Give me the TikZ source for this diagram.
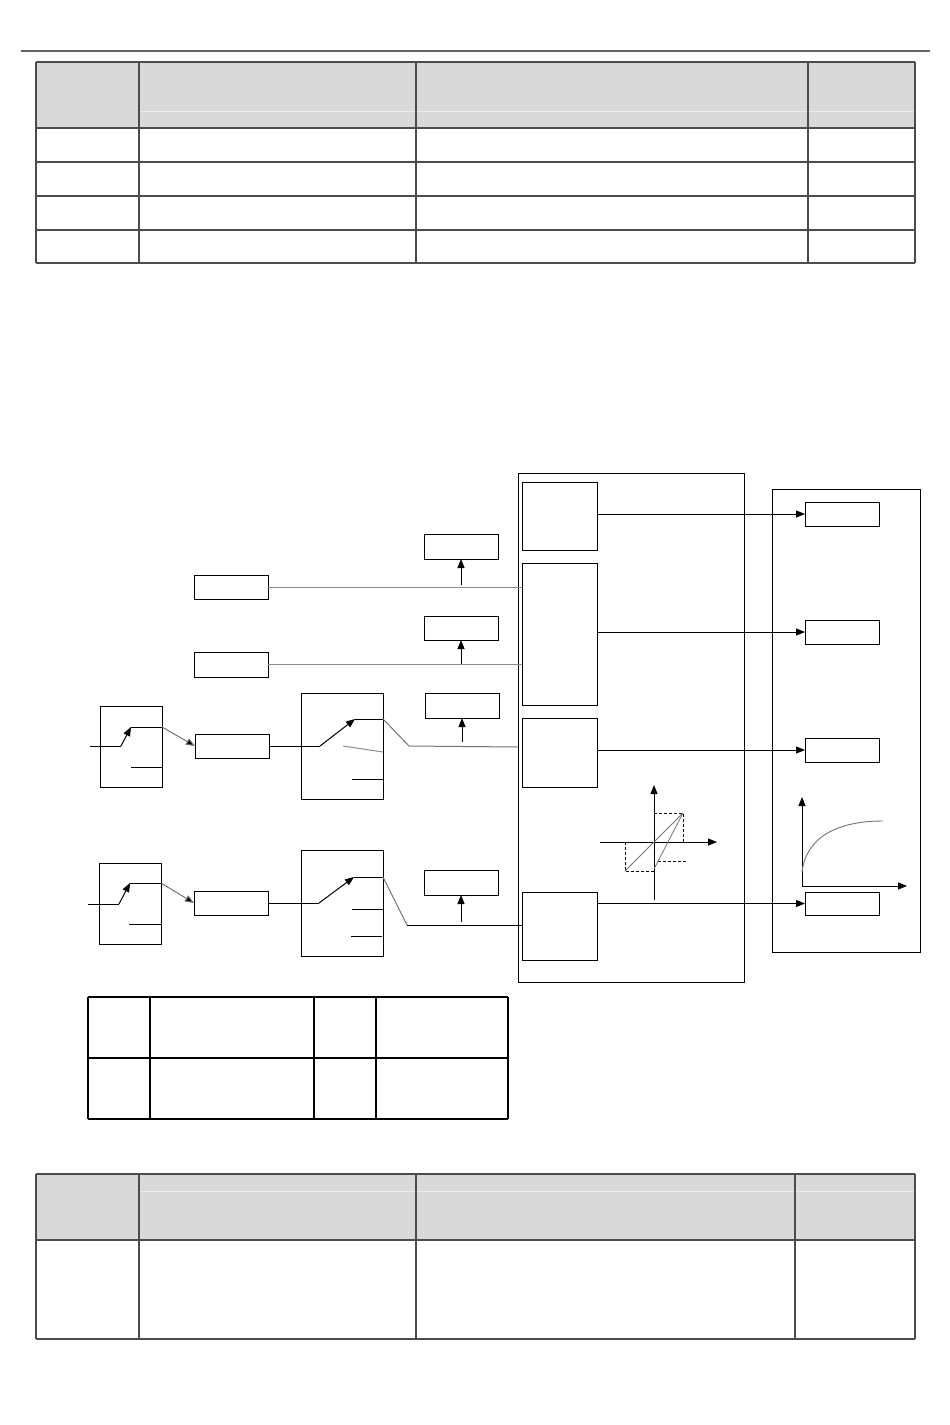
\documentclass[tikz,border=0pt]{standalone}
\usetikzlibrary{arrows.meta}
\begin{document}
\begin{tikzpicture}[x=1pt,y=-1pt,
  box/.style={draw=black,line width=1pt,inner sep=0pt,outer sep=0pt,fill=white},
  ln/.style={draw=black,line width=1pt},
  gln/.style={draw=black!45,line width=1pt},
  arr/.style={-{Triangle[length=9pt,width=7pt]}},
  tbl/.style={draw=black!70,line width=1.8pt},
  thn/.style={draw=black,line width=1.2pt},
  dsh/.style={draw=black,line width=0.9pt,dash pattern=on 3pt off 2pt},
  hl/.style={draw=white!92!black,line width=1pt}]
\useasboundingbox (0,0) rectangle (950,1425);
% header rule
\draw[draw=black!60,line width=2pt] (21,51) -- (930,51);
% ---------- top table
\fill[gray!30] (36,62) rectangle (915,128);
\draw[hl] (140,111) -- (915,111);
\foreach \y in {62,128,162,196,230,263} \draw[tbl] (36,\y) -- (915,\y);
\foreach \x in {36,139,416,808,915} \draw[tbl] (\x,62) -- (\x,263);
% ---------- diagram boxes
\node[box,minimum width=226pt,minimum height=509pt] (Mid) at (631,727.5) {};
\node[box,minimum width=148pt,minimum height=463pt] (Rbig) at (846,720.5) {};
\node[box,minimum width=75pt,minimum height=68pt] (A) at (559.5,516) {};
\node[box,minimum width=75pt,minimum height=142pt] (B) at (559.5,634) {};
\node[box,minimum width=75pt,minimum height=69pt] (C) at (559.5,752.5) {};
\node[box,minimum width=75pt,minimum height=68pt] (D) at (559.5,926) {};
\node[box,minimum width=74pt,minimum height=24pt] (R1) at (842,514) {};
\node[box,minimum width=74pt,minimum height=24pt] (R2) at (842,632) {};
\node[box,minimum width=74pt,minimum height=24pt] (R3) at (842,750) {};
\node[box,minimum width=74pt,minimum height=23pt] (R4) at (842,903.5) {};
\node[box,minimum width=74pt,minimum height=24pt] (K) at (231,587) {};
\node[box,minimum width=74pt,minimum height=25pt] (L) at (461,546.5) {};
\node[box,minimum width=74pt,minimum height=25pt] (M) at (231,664.5) {};
\node[box,minimum width=74pt,minimum height=24pt] (N) at (461,628) {};
\node[box,minimum width=62pt,minimum height=81pt] (S1) at (131,746.5) {};
\node[box,minimum width=74pt,minimum height=24pt] (E) at (232,746) {};
\node[box,minimum width=82pt,minimum height=106pt] (F) at (342,746) {};
\node[box,minimum width=74pt,minimum height=25pt] (G) at (462,705.5) {};
\node[box,minimum width=62pt,minimum height=81pt] (S2) at (130,903.5) {};
\node[box,minimum width=74pt,minimum height=24pt] (H) at (231,903) {};
\node[box,minimum width=82pt,minimum height=106pt] (I) at (342,903) {};
\node[box,minimum width=74pt,minimum height=25pt] (J) at (461,882.5) {};
% ---------- outputs to the right
\draw[ln,arr] (A.east|-R1.west) -- (R1.west);
\draw[ln,arr] (B.east|-R2.west) -- (R2.west);
\draw[ln,arr] (C.east|-R3.west) -- (R3.west);
\draw[ln,arr] (D.east|-R4.west) -- (R4.west);
% ---------- K, M lines
\draw[gln] (K.east) -- (B.west|-K.east);
\coordinate (Lb) at (461,585);
\draw[ln,arr] (Lb) -- (L.south);
\draw[gln] (M.east) -- (B.west|-M.east);
\coordinate (Nb) at (461,664);
\draw[ln,arr] (Nb) -- (N.south);
% ---------- switch row 1
\coordinate (s1in) at (90,746);
\coordinate (s1p) at (121,746);
\coordinate (s1c) at (131,727);
\coordinate (s1o) at (162,727);
\draw[ln] (s1in) -- (s1p);
\draw[ln,arr] (s1p) -- (s1c);
\draw[ln] (s1c) -- (s1o);
\draw[ln] (131,767) -- (162,767);
\draw[gln,-{Triangle[length=9pt,width=7pt,fill=black]},draw=black!55] (s1o) -- (E.west);
\coordinate (f1p) at (320,746);
\coordinate (f1c) at (355,719);
\coordinate (f1o) at (383,719);
\draw[ln] (E.east) -- (f1p);
\draw[ln,arr] (f1p) -- (f1c);
\draw[ln] (f1c) -- (f1o);
\draw[gln] (343,746) -- (383,752);
\draw[ln] (352,779) -- (383,779);
\coordinate (f1k) at (409,746);
\coordinate (c1in) at (518,747);
\draw[gln,draw=black!55] (f1o) -- (f1k) -- (c1in);
\coordinate (Gb) at (462,742);
\draw[ln,arr] (Gb) -- (G.south);
% ---------- switch row 2
\coordinate (s2in) at (88,904);
\coordinate (s2p) at (119,904);
\coordinate (s2c) at (130,883);
\coordinate (s2o) at (161,883);
\draw[ln] (s2in) -- (s2p);
\draw[ln,arr] (s2p) -- (s2c);
\draw[ln] (s2c) -- (s2o);
\draw[ln] (129,924) -- (161,924);
\draw[gln,-{Triangle[length=9pt,width=7pt,fill=black]},draw=black!55] (s2o) -- (H.west);
\coordinate (i1p) at (319,903);
\coordinate (i1c) at (354,877);
\coordinate (i1o) at (383,877);
\draw[ln] (H.east) -- (i1p);
\draw[ln,arr] (i1p) -- (i1c);
\draw[ln] (i1c) -- (i1o);
\draw[ln] (352,909) -- (383,909);
\draw[ln] (351,936) -- (382,936);
\coordinate (i1k) at (407,925);
\draw[gln,draw=black!55] (i1o) -- (i1k);
\draw[ln] (i1k) -- (D.west|-i1k);
\coordinate (Jb) at (461,922);
\draw[ln,arr] (Jb) -- (J.south);
% ---------- hysteresis graph
\coordinate (hy0) at (654,900);
\coordinate (hy1) at (654,785);
\coordinate (hx0) at (600,842);
\coordinate (hx1) at (717,842);
\draw[ln,arr] (hy0) -- (hy1);
\draw[ln,arr] (hx0) -- (hx1);
\draw[dsh] (654,813) -- (683,813) -- (683,842);
\draw[dsh] (654,871) -- (625,871) -- (625,842);
\draw[dsh] (658,861) -- (686,861);
\draw[draw=black!55,line width=0.8pt] (625,871) -- (683,813);
\draw[draw=black!55,line width=0.8pt] (654,869) -- (683,813);
% ---------- saturation curve
\coordinate (sy0) at (802,886);
\coordinate (sy1) at (802,797);
\coordinate (sx1) at (907,886);
\draw[ln,arr] (sy0) -- (sy1);
\draw[ln,arr] (sy0) -- (sx1);
\draw[draw=black!55,line width=0.9pt] (802,872) .. controls (806,838) and (836,821) .. (883,821);
% ---------- small table
\foreach \y in {997,1058,1119} \draw[thn] (88,\y) -- (508,\y);
\foreach \x in {88,150,314,376,508} \draw[thn] (\x,997) -- (\x,1119);
% ---------- bottom table
\fill[gray!30] (36,1174) rectangle (915,1240);
\draw[hl] (140,1191) -- (915,1191);
\foreach \y in {1174,1240,1339} \draw[tbl] (36,\y) -- (915,\y);
\foreach \x in {36,139,416,795,915} \draw[tbl] (\x,1174) -- (\x,1339);
\end{tikzpicture}
\end{document}
